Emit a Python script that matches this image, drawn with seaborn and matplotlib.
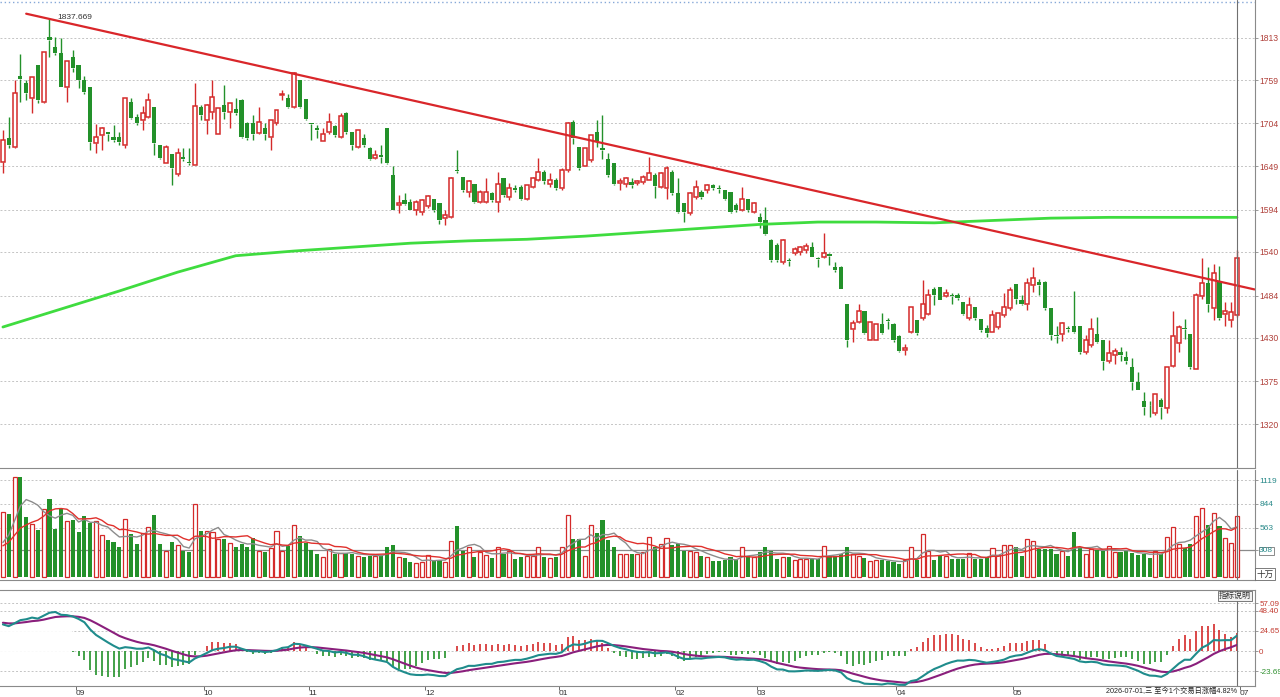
import numpy as np
import pandas as pd
import matplotlib
matplotlib.use("Agg")
import matplotlib.pyplot as plt
from matplotlib.patches import Rectangle
import seaborn as sns

# daily candles, Aug 2025 .. 2026-07-01
opens = [1655, 1685, 1674, 1764, 1755, 1736, 1779, 1731, 1814, 1801, 1794, 1750, 1789, 1779, 1759, 1750, 1679, 1689, 1693, 1686,
         1687, 1676, 1731, 1712, 1708, 1712, 1725, 1676, 1654, 1665, 1639, 1661, 1655, 1651, 1725, 1708, 1719, 1691, 1727, 1719,
         1722, 1734, 1704, 1705, 1692, 1698, 1687, 1704, 1740, 1736, 1725, 1759, 1735, 1705, 1698, 1682, 1693, 1700, 1687, 1717,
         1693, 1674, 1685, 1672, 1660, 1663, 1698, 1638, 1600, 1606, 1604, 1593, 1591, 1598, 1608, 1602, 1583, 1584, 1645, 1636,
         1617, 1627, 1604, 1604, 1615, 1604, 1634, 1610, 1621, 1623, 1607, 1623, 1632, 1642, 1627, 1632, 1621, 1645, 1706, 1674,
         1650, 1657, 1693, 1673, 1659, 1653, 1628, 1627, 1629, 1628, 1629, 1632, 1638, 1623, 1621, 1642, 1615, 1602, 1589, 1610,
         1617, 1619, 1625, 1622, 1619, 1617, 1600, 1593, 1608, 1591, 1585, 1580, 1555, 1549, 1527, 1530, 1538, 1540, 1542, 1546,
         1532, 1533, 1537, 1521, 1520, 1473, 1442, 1451, 1465, 1428, 1428, 1448, 1453, 1448, 1432, 1415, 1438, 1453, 1455, 1461,
         1493, 1495, 1483, 1485, 1485, 1476, 1455, 1470, 1454, 1443, 1438, 1444, 1459, 1468, 1499, 1478, 1474, 1498, 1502, 1502,
         1468, 1434, 1435, 1443, 1445, 1445, 1412, 1421, 1435, 1427, 1400, 1408, 1412, 1406, 1393, 1374, 1349, 1345, 1334, 1351,
         1340, 1394, 1423, 1443, 1435, 1391, 1483, 1500, 1468, 1502, 1461, 1453, 1459]
highs = [1696, 1712, 1759, 1793, 1759, 1763, 1779, 1795, 1837.669, 1814, 1813, 1784, 1798, 1779, 1764, 1750, 1703, 1699, 1693, 1702,
         1693, 1736, 1737, 1716, 1726, 1743, 1725, 1676, 1676, 1665, 1672, 1672, 1672, 1755, 1728, 1729, 1760, 1724, 1753, 1730,
         1736, 1735, 1706, 1715, 1725, 1704, 1708, 1721, 1747, 1742, 1770, 1759, 1735, 1705, 1702, 1698, 1717, 1702, 1717, 1719,
         1693, 1696, 1691, 1674, 1670, 1676, 1698, 1649, 1612, 1615, 1608, 1606, 1608, 1613, 1608, 1602, 1593, 1636, 1670, 1636,
         1632, 1627, 1619, 1634, 1617, 1642, 1634, 1628, 1625, 1625, 1625, 1636, 1660, 1644, 1640, 1634, 1647, 1706, 1708, 1674,
         1672, 1689, 1708, 1715, 1666, 1653, 1634, 1636, 1634, 1632, 1638, 1661, 1640, 1642, 1649, 1644, 1634, 1602, 1617, 1632,
         1619, 1627, 1627, 1625, 1619, 1617, 1602, 1623, 1608, 1604, 1589, 1597, 1557, 1551, 1557, 1532, 1546, 1547, 1551, 1553,
         1534, 1564, 1538, 1527, 1522, 1473, 1453, 1474, 1465, 1451, 1448, 1462, 1455, 1449, 1434, 1422, 1470, 1453, 1504, 1493,
         1495, 1495, 1493, 1488, 1488, 1476, 1482, 1470, 1454, 1446, 1466, 1462, 1488, 1495, 1499, 1485, 1506, 1521, 1505, 1503,
         1468, 1445, 1451, 1445, 1490, 1445, 1434, 1455, 1457, 1427, 1428, 1417, 1419, 1414, 1404, 1387, 1361, 1349, 1359, 1353,
         1393, 1465, 1446, 1454, 1435, 1487, 1532, 1521, 1524, 1522, 1476, 1476, 1542]
lows = [1641, 1672, 1672, 1731, 1734, 1717, 1730, 1730, 1789, 1791, 1750, 1731, 1770, 1749, 1742, 1670, 1666, 1670, 1682, 1680,
        1677, 1672, 1710, 1702, 1696, 1711, 1664, 1658, 1653, 1625, 1637, 1656, 1651, 1651, 1708, 1690, 1710, 1691, 1710, 1698,
        1715, 1685, 1683, 1683, 1691, 1683, 1670, 1702, 1734, 1723, 1723, 1723, 1708, 1683, 1685, 1681, 1691, 1687, 1685, 1691,
        1670, 1672, 1674, 1657, 1659, 1653, 1652, 1593, 1589, 1600, 1593, 1587, 1587, 1596, 1591, 1576, 1574, 1583, 1640, 1617,
        1610, 1602, 1602, 1602, 1604, 1591, 1610, 1606, 1617, 1606, 1606, 1621, 1630, 1627, 1623, 1619, 1619, 1642, 1678, 1644,
        1649, 1655, 1674, 1659, 1636, 1625, 1619, 1623, 1621, 1625, 1627, 1632, 1609, 1621, 1608, 1612, 1589, 1578, 1587, 1608,
        1608, 1615, 1619, 1615, 1606, 1590, 1591, 1592, 1591, 1589, 1570, 1561, 1527, 1527, 1525, 1522, 1536, 1536, 1538, 1533,
        1521, 1532, 1523, 1514, 1492, 1419, 1425, 1449, 1435, 1427, 1427, 1435, 1442, 1425, 1412, 1408, 1436, 1434, 1453, 1459,
        1472, 1478, 1482, 1474, 1478, 1459, 1453, 1453, 1438, 1431, 1437, 1442, 1457, 1466, 1474, 1472, 1466, 1489, 1485, 1466,
        1428, 1423, 1426, 1437, 1436, 1410, 1410, 1419, 1424, 1389, 1398, 1397, 1400, 1397, 1363, 1363, 1332, 1329, 1332, 1327,
        1334, 1393, 1412, 1429, 1391, 1390, 1480, 1463, 1453, 1453, 1445, 1444, 1457]
closes = [1683, 1676, 1743, 1761, 1743, 1763, 1734, 1795, 1811, 1794, 1750, 1784, 1775, 1759, 1744, 1680, 1687, 1698, 1690, 1683,
          1680, 1736, 1711, 1704, 1717, 1734, 1679, 1660, 1674, 1647, 1666, 1658, 1653, 1726, 1715, 1727, 1738, 1724, 1719, 1730,
          1717, 1687, 1685, 1691, 1706, 1691, 1708, 1721, 1742, 1725, 1768, 1725, 1710, 1703, 1696, 1690, 1706, 1689, 1713, 1693,
          1676, 1696, 1676, 1659, 1664, 1661, 1653, 1594, 1602, 1601, 1594, 1604, 1606, 1611, 1593, 1581, 1587, 1634, 1643, 1619,
          1631, 1604, 1617, 1617, 1606, 1627, 1613, 1621, 1619, 1608, 1625, 1634, 1642, 1630, 1632, 1621, 1645, 1704, 1685, 1647,
          1672, 1689, 1681, 1670, 1638, 1627, 1630, 1634, 1625, 1630, 1635, 1641, 1624, 1640, 1647, 1615, 1591, 1591, 1615, 1623,
          1610, 1625, 1621, 1620, 1608, 1591, 1593, 1608, 1593, 1602, 1578, 1563, 1529, 1529, 1555, 1528, 1544, 1546, 1548, 1534,
          1531, 1538, 1535, 1517, 1493, 1427, 1449, 1465, 1436, 1451, 1448, 1436, 1452, 1427, 1414, 1417, 1470, 1436, 1474, 1485,
          1485, 1478, 1487, 1484, 1481, 1461, 1472, 1455, 1440, 1436, 1459, 1462, 1470, 1491, 1480, 1474, 1500, 1506, 1498, 1468,
          1434, 1432, 1449, 1442, 1438, 1412, 1427, 1441, 1425, 1400, 1411, 1414, 1408, 1400, 1374, 1363, 1342, 1344, 1358, 1342,
          1393, 1432, 1444, 1442, 1393, 1485, 1500, 1474, 1513, 1455, 1464, 1463, 1532]
# volume, 十万
volumes = [746, 727, 1150, 1150, 688, 610, 537, 778, 904, 555, 787, 641, 660, 518, 704, 622, 641,
           487, 420, 402, 345, 668, 495, 383, 506, 575, 719, 375, 300, 405, 364, 300, 281,
           844, 525, 525, 518, 432, 432, 394, 338, 383, 338, 450, 300, 290, 330, 532, 300, 350, 600,
           466, 394, 308, 262, 223, 319, 262, 273, 273, 262, 243, 231, 243, 243, 250, 338, 364,
           223, 216, 166, 154, 166, 254, 177, 193, 166, 413, 583,
           300, 345, 223, 281, 254, 216, 345, 262, 300, 204, 223, 243, 243, 345, 223, 216, 231, 338,
           711, 440, 432, 243, 594, 507, 660, 420, 338, 262, 262, 262,
           262, 281, 460, 338, 375, 450, 368, 375, 300, 292, 281, 243, 223, 177, 177, 193, 231, 193, 338, 243,
           231, 281, 338, 300, 204, 231, 231, 193, 204, 204, 204, 204, 353, 243, 243, 262, 345, 262, 243, 212,
           177, 193, 193, 177, 166, 146, 193, 338, 193, 494, 300, 193, 243, 243, 204, 204, 204, 270, 204, 204,
           231, 330, 254, 364, 364, 338, 243, 432, 413, 319, 319, 319, 262, 300, 243, 518, 345, 262, 319, 308,
           300, 353, 281, 281, 292, 270, 254, 262, 216, 300, 262, 460, 575, 375, 330, 375, 707, 797, 602, 737,
           583, 452, 394, 707]
# volume averages just before the window
VOL_PREV = [300, 320, 340, 330, 310, 290, 300, 320, 300, 310]

# 250-day average at some candles
ma250_idx = [0, 10, 20, 30, 40, 50, 60, 70, 80, 90, 100, 110, 120, 130, 140, 150, 160, 170, 180, 190, 200, 212]
ma250_val = [1444, 1467, 1490, 1514, 1535, 1541, 1546, 1551, 1554, 1556, 1560, 1565, 1570, 1575, 1578, 1578,
             1577, 1580, 1583, 1584, 1584, 1584]
trend_idx = [4, 215]
trend_val = [1844, 1492]
peak_label = "1837.669"

price_ticks = [1813, 1759, 1704, 1649, 1594, 1540, 1484, 1430, 1375, 1320]
vol_ticks = [1119, 844, 563, 308]
macd_ticks = [57.09, 48.40, 24.65, 0, -23.69]
macd_labels = ["57.09", "48.40", "24.65", "0", "-23.69"]
month_pos = [12.5, 34.5, 52.5, 72.5, 95.5, 115.5, 129.5, 153.5, 173.5, 212.5]
month_labels = ["09", "10", "11", "12", "01", "02", "03", "04", "05", "07"]

# macd state at the first candle (history before the window)
EMA12_START = 1672
EMA26_START = 1640
DEA_START = 34
HIST_FROM = 12   # no bars drawn before this candle in the source

RED = "#d42a2a"
GREEN = "#23912a"
GRID = "#c4c4c4"

sns.set_theme(style="white")
plt.rcParams["font.family"] = ["Liberation Sans", "Noto Sans CJK SC", "DejaVu Sans"]

df = pd.DataFrame({"open": opens, "high": highs, "low": lows, "close": closes, "vol": volumes})
df["i"] = np.arange(len(df))
up = (df["close"] >= df["open"]).values
colors = np.where(up, RED, GREEN)
lo = np.minimum(df["open"], df["close"])
hi = np.maximum(df["open"], df["close"])
h = np.maximum(hi - lo, 1.0)

fig = plt.figure(figsize=(12.8, 6.97), dpi=100)
W, H = 1280, 697
ax1 = fig.add_axes([0, 1 - 468 / H, 1255 / W, 468 / H])
ax2 = fig.add_axes([0, 1 - 580 / H, 1255 / W, 110 / H], sharex=ax1)
ax3 = fig.add_axes([0, 1 - 686 / H, 1255 / W, 96 / H], sharex=ax1)

# --- price panel
for t in price_ticks:
    ax1.axhline(t, color=GRID, lw=0.7, ls=(0, (2, 2)), zorder=0)
ax1.vlines(df["i"], df["low"], lo, color=colors, lw=1.0, zorder=2)
ax1.vlines(df["i"], hi, df["high"], color=colors, lw=1.0, zorder=2)
ax1.bar(df["i"][up], h[up], bottom=lo[up], width=0.68, facecolor="white", edgecolor=RED, linewidth=1.1, zorder=3)
ax1.bar(df["i"][~up], h[~up], bottom=lo[~up], width=0.72, color=GREEN, linewidth=0, zorder=3)
sns.lineplot(x=ma250_idx, y=ma250_val, ax=ax1, color="#3fdc3f", linewidth=2.0, zorder=4)
sns.lineplot(x=trend_idx, y=trend_val, ax=ax1, color="#d9262a", linewidth=1.6, zorder=5)
pk = int(np.argmax(highs))
ax1.annotate(peak_label, xy=(pk, highs[pk]), xytext=(6, 1), textcoords="offset points",
             fontsize=6, color="#333333", va="center", ha="left")
ax1.axhline(1859, color="#86a8d8", lw=1.0, ls=(0, (1, 2)))
ax1.set_ylim(1264, 1861.5)
ax1.set_xlim(-0.5, 215.1)
ax1.set_yticks(price_ticks)
ax1.set_yticklabels([str(t) for t in price_ticks])

# --- volume panel
for t in vol_ticks:
    ax2.axhline(t, color=GRID, lw=0.7, ls=(0, (2, 2)), zorder=0)
ax2.axhline(308, color="#8a8a8a", lw=0.9, zorder=1)
ax2.bar(df["i"][up], df["vol"][up], width=0.7, facecolor="white", edgecolor=RED, linewidth=0.9, zorder=2)
ax2.bar(df["i"][~up], df["vol"][~up], width=0.7, color=GREEN, linewidth=0, zorder=2)
vol_all = pd.Series(VOL_PREV + volumes)
ma5 = vol_all.rolling(5).mean().iloc[len(VOL_PREV):].values
ma10 = vol_all.rolling(10).mean().iloc[len(VOL_PREV):].values
sns.lineplot(x=df["i"], y=ma5, ax=ax2, color="#8c8c8c", linewidth=1.0, zorder=3)
sns.lineplot(x=df["i"], y=ma10, ax=ax2, color="#e0302c", linewidth=1.0, zorder=4)
ax2.set_ylim(-40, 1235)
ax2.set_yticks(vol_ticks)
ax2.set_yticklabels([str(t) for t in vol_ticks])

# --- macd panel
a12, a26, a9 = 2 / 13, 2 / 27, 2 / 10
e12, e26 = [EMA12_START], [EMA26_START]
for c in closes[1:]:
    e12.append(e12[-1] + a12 * (c - e12[-1]))
    e26.append(e26[-1] + a26 * (c - e26[-1]))
dif = np.array(e12) - np.array(e26)
dea = [DEA_START]
for d in dif[1:]:
    dea.append(dea[-1] + a9 * (d - dea[-1]))
dea = np.array(dea)
hist = 2 * (dif - dea)

for t in macd_ticks:
    ax3.axhline(t, color=GRID, lw=0.7, ls=(0, (2, 2)), zorder=0)
hi_idx = df["i"][HIST_FROM:]
hv = hist[HIST_FROM:]
ax3.vlines(hi_idx, 0, hv, color=np.where(hv >= 0, RED, GREEN), lw=1.2, zorder=2)
ax3.add_patch(Rectangle((-0.5, -3), 12.4, 30, facecolor="white", edgecolor="none", alpha=0.92, zorder=3))
sns.lineplot(x=df["i"], y=dea, ax=ax3, color="#8a1f7c", linewidth=1.5, zorder=4)
sns.lineplot(x=df["i"], y=dif, ax=ax3, color="#1f8c8c", linewidth=1.5, zorder=5)
ax3.set_ylim(-41, 72.8)
ax3.set_yticks(macd_ticks)
ax3.set_yticklabels(macd_labels)

# crosshair on the last day
for ax in (ax1, ax2, ax3):
    ax.axvline(len(df) - 1, color="#707070", lw=0.8, zorder=6)
    ax.yaxis.tick_right()
    ax.set_xlabel("")
    ax.set_ylabel("")
    ax.spines["left"].set_visible(False)
    ax.spines["top"].set_visible(False)
    for s in ("right", "bottom"):
        ax.spines[s].set_color("#8a8a8a")
        ax.spines[s].set_linewidth(0.8)
    ax.tick_params(axis="y", length=2, width=0.6, pad=1, labelsize=6.2, color="#8a8a8a")
ax3.spines["top"].set_visible(True)
ax3.spines["top"].set_color("#8a8a8a")
ax3.spines["top"].set_linewidth(0.8)

ax1.tick_params(axis="y", labelcolor="#b0403a")
ax2.tick_params(axis="y", labelcolor="#2a8a8a", labelsize=6)
ax3.tick_params(axis="y", labelsize=5.8)
for lab, t in zip(ax3.get_yticklabels(), macd_ticks):
    lab.set_color("#c23a30" if t >= 0 else "#2e8f2e")
ax2.get_yticklabels()[-1].set_bbox(dict(facecolor="white", edgecolor="#777777", pad=0.5, lw=0.6))

ax1.tick_params(axis="x", bottom=False, labelbottom=False)
ax2.tick_params(axis="x", bottom=False, labelbottom=False)
ax3.set_xticks(month_pos)
ax3.set_xticklabels(month_labels)
ax3.tick_params(axis="x", bottom=True, length=3, width=0.6, pad=0, labelsize=6, color="#555555",
                labelcolor="#333333")
for lab in ax3.get_xticklabels():
    lab.set_ha("left")

fig.text(1265 / W, 1 - 574 / H, "十万", fontsize=6.2, color="#333333", ha="center", va="center",
         bbox=dict(facecolor="white", edgecolor="#666666", pad=0.8, lw=0.6))
fig.text(1235 / W, 1 - 596 / H, "指标说明", fontsize=5.8, color="#333333", ha="center", va="center",
         bbox=dict(facecolor="#f2f2f2", edgecolor="#666666", pad=1.0, lw=0.6))
fig.text(1106 / W, 1 - 691 / H, "2026-07-01,三 至今1个交易日涨幅4.82%", fontsize=5.2, color="#222222",
         ha="left", va="center")

fig.savefig("out.png", dpi=100, facecolor="white")
